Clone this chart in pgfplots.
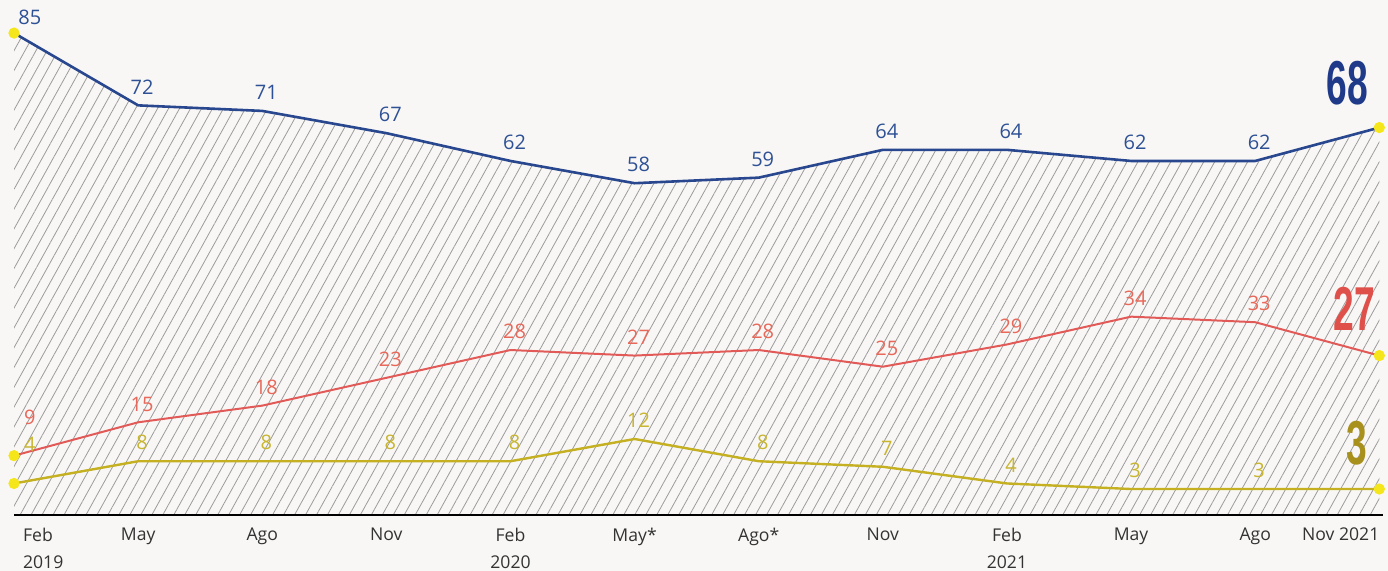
\documentclass[border=0pt]{standalone}
\usepackage{pgfplots}
\pgfplotsset{compat=1.18}
\usetikzlibrary{patterns.meta}
\usepackage{fontspec}
\setmainfont{Open Sans}
\newfontfamily\bigfont[FakeStretch=0.6]{Liberation Sans}

\definecolor{blueline}{HTML}{28478F}
\definecolor{bluetext}{HTML}{2E5196}
\definecolor{bigblue}{HTML}{1E3A88}
\definecolor{redline}{HTML}{E25A58}
\definecolor{redtext}{HTML}{E8685A}
\definecolor{bigred}{HTML}{E0504A}
\definecolor{yelline}{HTML}{C4B020}
\definecolor{yeltext}{HTML}{C8B530}
\definecolor{bigyel}{HTML}{A8901C}
\definecolor{dot}{HTML}{F5E61C}
\definecolor{hatch}{HTML}{9C9C9C}
\definecolor{paper}{HTML}{F8F7F5}

\pgfplotsset{
  lbl/.style={draw=none, mark=none, nodes near coords, point meta=explicit symbolic,
    nodes near coords style={text=#1, font=\fontsize{10}{12}\selectfont, anchor=south, xshift=2pt, yshift=2pt}},
  firstlbl/.style n args={3}{draw=none, mark=none, nodes near coords, point meta=explicit symbolic,
    nodes near coords style={text=#1, font=\fontsize{10}{12}\selectfont, anchor=south west, xshift=#2, yshift=#3}},
  biglbl/.style n args={3}{draw=none, mark=none, nodes near coords, point meta=explicit symbolic,
    nodes near coords style={text=#1, inner sep=0pt, font=\bigfont\bfseries\fontsize{31}{31}\selectfont,
      anchor=south east, xshift=#2, yshift=#3}},
}

\begin{document}
\begin{tikzpicture}
\path[use as bounding box] (0,0) rectangle (694pt,285.5pt);
\fill[paper] (0,0) rectangle (694pt,285.5pt);
\begin{axis}[
  at={(0pt,28pt)}, anchor=south west,
  scale only axis, width=694pt, height=257.5pt,
  xmin=-0.113, xmax=11.07, ymin=-1.67, ymax=90.95,
  axis line style={draw=none},
  ytick=\empty,
  xtick={1,...,11},
  xticklabels={May,Ago,Nov,{Feb\\2020},May*,Ago*,Nov,{Feb\\2021},May,Ago,{\makebox[0pt][r]{Nov 2021}}},
  major tick length=0pt,
  xticklabel style={font=\fontsize{8.8}{13.5}\selectfont, text=black!80, align=center, yshift=-3pt},
  extra x ticks={0},
  extra x tick labels={{Feb\\2019}},
  extra x tick style={major tick length=0pt, xticklabel style={anchor=north west, align=left, xshift=1pt}},
  clip=false,
]
% hatched area under the top series
\addplot[draw=none, pattern={Lines[angle=61, distance=4.8pt, line width=0.4pt]}, pattern color=hatch]
  coordinates {(0,85)(1,72)(2,71)(3,67)(4,62)(5,58)(6,59)(7,64)(8,64)(9,62)(10,62)(11,68)(11,-1.67)(0,-1.67)} -- cycle;
% baseline
\addplot[black, line width=1.2pt] coordinates {(0,-1.67)(11.03,-1.67)};

% lines
\addplot[blueline, line width=1.3pt] coordinates {(0,85)(1,72)(2,71)(3,67)(4,62)(5,58)(6,59)(7,64)(8,64)(9,62)(10,62)(11,68)};
\addplot[redline, line width=1pt] coordinates {(0,9)(1,15)(2,18)(3,23)(4,28)(5,27)(6,28)(7,25)(8,29)(9,34)(10,33)(11,27)};
\addplot[yelline, line width=1.2pt] coordinates {(0,4)(1,8)(2,8)(3,8)(4,8)(5,12)(6,8)(7,7)(8,4)(9,3)(10,3)(11,3)};

% end dots
\addplot[only marks, mark=*, mark size=2.6pt, color=dot]
  coordinates {(0,85)(11,68)(0,9)(11,27)(0,4)(11,3)};

% value labels
\addplot[lbl=bluetext] coordinates {(1,72)[72](2,71)[71](3,67)[67](4,62)[62](5,58)[58](6,59)[59](7,64)[64](8,64)[64](9,62)[62](10,62)[62]};
\addplot[lbl=redtext] coordinates {(1,15)[15](2,18)[18](3,23)[23](4,28)[28](5,27)[27](6,28)[28](7,25)[25](8,29)[29](9,34)[34](10,33)[33]};
\addplot[lbl=yeltext] coordinates {(1,8)[8](2,8)[8](3,8)[8](4,8)[8](5,12)[12](6,8)[8](7,7)[7](8,4)[4](9,3)[3](10,3)[3]};

\addplot[firstlbl={bluetext}{-1.3pt}{0.7pt}] coordinates {(0,85)[85]};
\addplot[firstlbl={redtext}{1.5pt}{12pt}] coordinates {(0,9)[9]};
\addplot[firstlbl={yeltext}{1.5pt}{12.5pt}] coordinates {(0,4)[4]};

% large end values
\addplot[biglbl={bigblue}{-5.5pt}{11pt}] coordinates {(11,68)[68]};
\addplot[biglbl={bigred}{-2pt}{12.5pt}] coordinates {(11,27)[27]};
\addplot[biglbl={bigyel}{-6pt}{11.5pt}] coordinates {(11,3)[3]};
\end{axis}
\end{tikzpicture}
\end{document}
